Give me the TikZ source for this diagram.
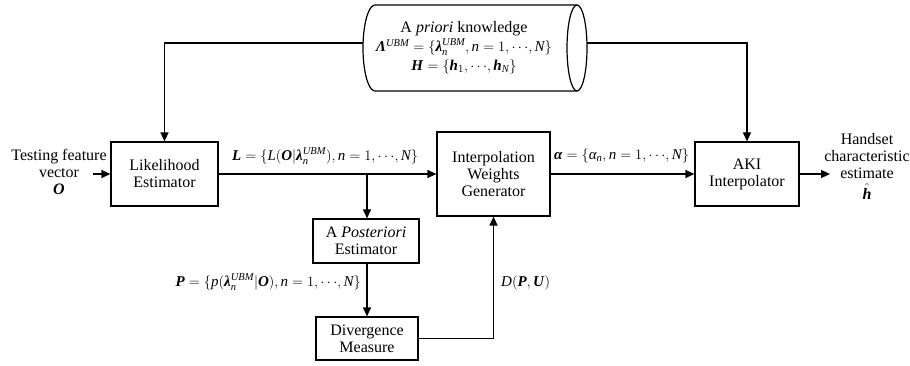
\documentclass[tikz,border=0pt]{standalone}
\usepackage{amsmath}
\usepackage{fontspec}
\setmainfont{Liberation Serif}
\usetikzlibrary{arrows.meta}
\newcommand{\bi}[1]{\textbf{\textit{#1}}}
\newcommand{\ti}[1]{\textit{#1}}
\newcommand{\cds}{{\cdots}}
\newcommand{\tightm}{\thickmuskip=5mu\relax\medmuskip=3mu\relax}
\begin{document}
\begin{tikzpicture}[x=1pt,y=-1pt,
  font=\fontsize{16}{17}\selectfont,
  block/.style={draw, line width=1.2pt, align=center, inner sep=0pt},
  conn/.style={line width=1.2pt, -{Triangle[length=9pt,width=8pt]}},
  outline/.style={line width=1.2pt},
  lbl/.style={inner sep=0pt, align=center},
  formula/.style={inner sep=0pt, font=\fontsize{15}{17}\selectfont}]
\useasboundingbox (0,0) rectangle (910,366);

% blocks
\node[block, minimum width=107pt, minimum height=64pt] (le) at (164.5,174) {Likelihood\\Estimator};
\node[block, minimum width=113pt, minimum height=84pt] (iwg) at (493.5,174) {Interpolation\\Weights\\Generator};
\node[block, minimum width=104pt, minimum height=64pt] (aki) at (747,174) {AKI\\Interpolator};
\node[block, minimum width=106pt, minimum height=44pt] (ape) at (366,241) {A \textit{Posteriori}\\Estimator};
\node[block, minimum width=102pt, minimum height=43pt] (dm) at (367,338.5) {Divergence\\Measure};

% a priori knowledge store (cylinder)
\draw[outline] (577,5) -- (375,5) arc[start angle=-90, end angle=-270, x radius=12, y radius=43] -- (577,91);
\draw[outline] (577,48) ellipse[x radius=10, y radius=43];
\node[lbl, font=\fontsize{15}{19}\selectfont] (kb) at (464,48)
  {{\fontsize{16}{19}\selectfont A \textit{priori} knowledge}\\
   $\tightm\bi{Λ}^{\ti{UBM}} = \{\bi{λ}_{\ti{n}}^{\ti{UBM}}, \ti{n} = 1, \cds, \ti{N}\}$\\
   $\tightm\bi{H} = \{\bi{h}_{1}, \cds, \bi{h}_{\ti{N}}\}$};
\coordinate (kbl) at (363,43);
\coordinate (kbr) at (587,43);

% free ends
\coordinate (in) at (93,174);
\coordinate (out) at (830,174);
\coordinate (br) at (367,174);

% labels
\node[lbl] (tin) at (59,172) {Testing feature\\vector\\$\bi{O}$};
\node[lbl] (tout) at (867,166) {Handset\\characteristic\\estimate\\[4pt]$\hat{\bi{h}}$};
\node[formula, anchor=west] (ll) at (232,156) {$\tightm\bi{L} = \{\ti{L}(\bi{O}|\bi{λ}_{\ti{n}}^{\ti{UBM}}), \ti{n} = 1, \cds, \ti{N}\}$};
\node[formula, anchor=west] (al) at (554,156) {$\tightm\bi{α} = \{\ti{α}_{\ti{n}}, \ti{n} = 1, \cds, \ti{N}\}$};
\node[formula, anchor=east] (pl) at (361,282) {$\tightm\bi{P} = \{\ti{p}(\bi{λ}_{\ti{n}}^{\ti{UBM}}|\bi{O}), \ti{n} = 1, \cds, \ti{N}\}$};
\node[formula, anchor=west] (dl) at (501,283) {$\tightm\ti{D}(\bi{P}, \bi{U})$};

% connectors
\draw[conn] (in) -- (le);
\draw[conn] (le) -- (iwg);
\draw[conn] (br) -- (br |- ape.north);
\draw[conn] (iwg) -- (aki);
\draw[conn] (aki) -- (out);
\draw[conn] (ape.south -| br) -- (br |- dm.north);
\draw[conn] (dm.east) -| (iwg.south);
\draw[conn] (kbl) -| (le.north);
\draw[conn] (kbr) -| (aki.north);
\end{tikzpicture}
\end{document}
